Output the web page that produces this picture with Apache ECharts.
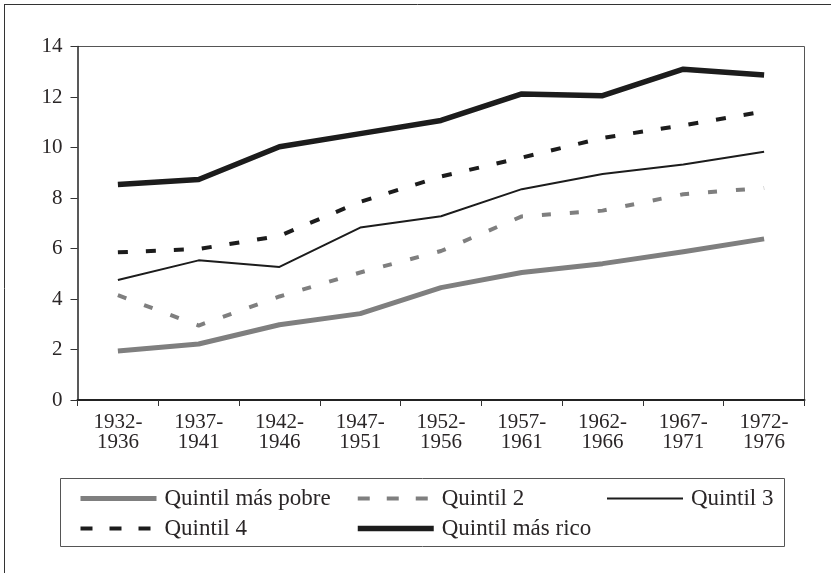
<!DOCTYPE html>
<html>
<head>
<meta charset="utf-8">
<script src="https://cdn.jsdelivr.net/npm/echarts@6/dist/echarts.min.js"></script>
<style>
html,body{margin:0;padding:0;background:#fff;}
#chart{width:831px;height:573px;}
</style>
</head>
<body>
<div id="chart"></div>
<script>
var categories = ['1932-\n1936','1937-\n1941','1942-\n1946','1947-\n1951','1952-\n1956','1957-\n1961','1962-\n1966','1967-\n1971','1972-\n1976'];
var seriesNames = ['Quintil más pobre','Quintil 2','Quintil 3','Quintil 4','Quintil más rico'];
var quintilPobre = [1.94, 2.22, 2.98, 3.42, 4.45, 5.05, 5.40, 5.87, 6.38];
var quintil2     = [4.15, 2.95, 4.10, 5.05, 5.90, 7.27, 7.50, 8.15, 8.40];
var quintil3     = [4.75, 5.53, 5.27, 6.83, 7.28, 8.35, 8.95, 9.33, 9.83];
var quintil4     = [5.85, 5.98, 6.50, 7.85, 8.85, 9.60, 10.38, 10.88, 11.43];
var quintilRico  = [8.53, 8.73, 10.03, 10.55, 11.07, 12.12, 12.05, 13.10, 12.87];
var yTicks = {min: 0, max: 14, interval: 2};

var FONT = '"Liberation Serif", "DejaVu Serif", serif';
var TXT = '#2a2627';
var GRAY = '#7f7f7f';
var BLACK = '#1c1c1c';

var styles = [
  {color: GRAY, width: 5, type: 'solid'},
  {color: GRAY, width: 4, type: [9, 19]},
  {color: BLACK, width: 2, type: 'solid'},
  {color: BLACK, width: 4, type: [10, 18]},
  {color: BLACK, width: 5.5, type: 'solid'}
];

var chart = echarts.init(document.getElementById('chart'), null, {renderer: 'canvas'});

function lineSeries(i, data) {
  var s = styles[i];
  return {
    name: seriesNames[i],
    type: 'line',
    data: data,
    symbol: 'none',
    showSymbol: false,
    silent: true,
    z: 3,
    lineStyle: {color: s.color, width: s.width, type: s.type, cap: 'butt', join: 'round'},
    itemStyle: {color: s.color},
    emphasis: {disabled: true}
  };
}

function legendItem(i) {
  var s = styles[i];
  var lt = s.type === 'solid' ? 'solid' : [12, 17];
  return {
    name: seriesNames[i],
    lineStyle: {color: s.color, width: s.width, type: lt, cap: 'butt'},
    itemStyle: {opacity: 0}
  };
}

var legendCommon = {
  orient: 'vertical',
  itemWidth: 76,
  itemHeight: 10,
  itemGap: 7,
  selectedMode: false,
  itemStyle: {opacity: 0},
  textStyle: {fontFamily: FONT, fontSize: 23, color: TXT, lineHeight: 20, padding: [0, 0, 0, 3]}
};

var option = {
  backgroundColor: '#fff',
  animation: false,
  grid: {left: 77.5, top: 46.5, right: 26.5, bottom: 173, containLabel: false, show: false},
  legend: [
    Object.assign({}, legendCommon, {data: [legendItem(0), legendItem(3)], left: 73, top: 482}),
    Object.assign({}, legendCommon, {data: [legendItem(1), legendItem(4)], left: 350, top: 482}),
    Object.assign({}, legendCommon, {data: [legendItem(2)], left: 601, top: 482})
  ],
  xAxis: {
    type: 'category',
    data: categories,
    boundaryGap: true,
    axisLine: {show: true, lineStyle: {color: '#222', width: 2}},
    axisTick: {show: true, length: 6, lineStyle: {color: '#333', width: 1}},
    axisLabel: {fontFamily: FONT, fontSize: 21, color: TXT, margin: 12, lineHeight: 20, interval: 0},
    splitLine: {show: false}
  },
  yAxis: {
    type: 'value',
    min: yTicks.min, max: yTicks.max, interval: yTicks.interval,
    axisLine: {show: true, lineStyle: {color: '#222', width: 1.5}},
    axisTick: {show: true, length: 7, lineStyle: {color: '#333', width: 1}},
    axisLabel: {fontFamily: FONT, fontSize: 21, color: TXT, margin: 15},
    splitLine: {show: false}
  },
  series: [
    lineSeries(0, quintilPobre),
    lineSeries(1, quintil2),
    lineSeries(2, quintil3),
    lineSeries(3, quintil4),
    lineSeries(4, quintilRico)
  ],
  graphic: [
    {type: 'line', shape: {x1: 4, y1: 4.5, x2: 831, y2: 4.5}, style: {stroke: '#333', lineWidth: 1}, silent: true},
    {type: 'line', shape: {x1: 4.5, y1: 4, x2: 4.5, y2: 573}, style: {stroke: '#333', lineWidth: 1}, silent: true},
    {type: 'line', shape: {x1: 77.5, y1: 46.5, x2: 804.5, y2: 46.5}, style: {stroke: '#555', lineWidth: 1}, silent: true},
    {type: 'line', shape: {x1: 804.5, y1: 46.5, x2: 804.5, y2: 400}, style: {stroke: '#555', lineWidth: 1}, silent: true},
    {type: 'rect', shape: {x: 60.5, y: 478.5, width: 724, height: 68}, style: {fill: 'none', stroke: '#555', lineWidth: 1}, silent: true, z: -1}
  ]
};
chart.setOption(option);
</script>
</body>
</html>
